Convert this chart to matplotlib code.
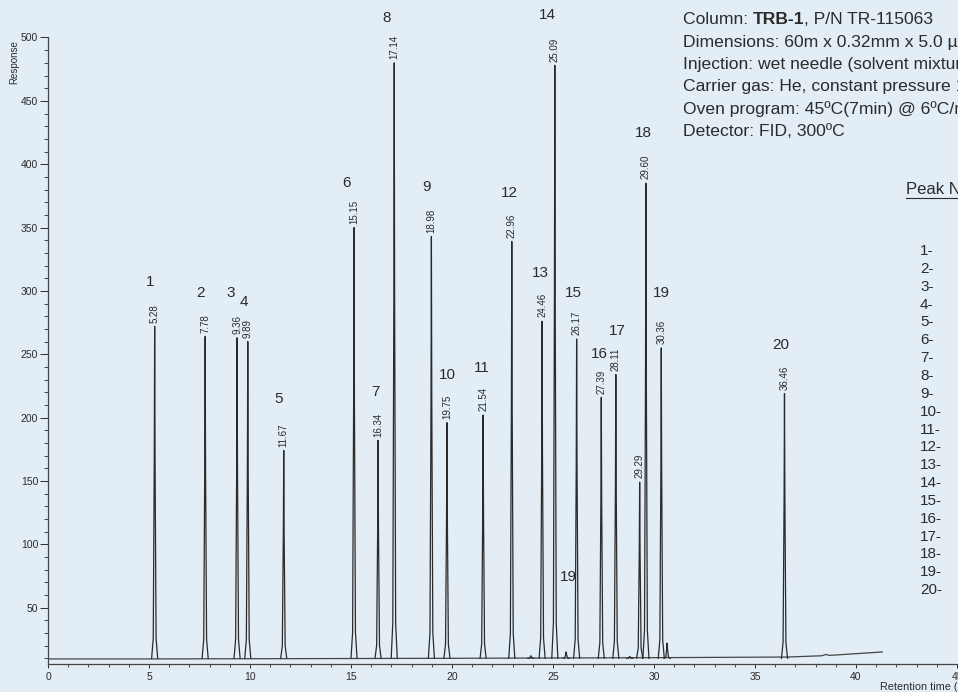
import numpy as np
import matplotlib.pyplot as plt
from matplotlib.ticker import MultipleLocator

plt.rcParams['font.family'] = ['Liberation Sans', 'DejaVu Sans']

# --- peaks (min, response) ---
peak_rt = [5.28, 7.78, 9.36, 9.89, 11.67, 15.15, 16.34, 17.14, 18.98, 19.75,
           21.54, 22.96, 24.46, 25.09, 26.17, 27.39, 28.11, 29.29, 29.60, 30.36, 36.46]
peak_height = [272, 264, 263, 260, 174, 350, 182, 480, 343, 196,
               202, 339, 276, 478, 262, 216, 234, 149, 385, 255, 219]
peak_label = ['1', '2', '3', '4', '5', '6', '7', '8', '9', '10',
              '11', '12', '13', '14', '15', '16', '17', '', '18', '19', '20']

# small unlabelled bumps
minor_rt = [23.9, 25.65, 28.8, 30.65]
minor_height = [12, 15, 11.5, 22]

# baseline drift
base_t = [0, 5, 20, 30, 36.6, 38.3, 38.5, 38.7, 41.3]
base_r = [9.5, 9.5, 10, 10.5, 11, 12, 13, 12.3, 15]

info_lines = ["Dimensions: 60m x 0.32mm x 5.0 \u00b5m",
              "Injection: wet needle (solvent mixture)",
              "Carrier gas: He, constant pressure 16 psi",
              "Oven program: 45\u00baC(7min) @ 6\u00baC/min",
              "Detector: FID, 300\u00baC"]

# --- layout (label nudges) ---
label_dx = [-0.23, -0.21, -0.30, -0.19, -0.23, -0.35, -0.15, -0.36, -0.22, 0.0,
            -0.05, -0.14, -0.10, -0.39, -0.18, -0.11, 0.06, 0, -0.14, 0.0, -0.17]
label_dy = [35, 34, 35, 31, 41, 35, 38, 35, 39, 38,
            37, 38, 38, 40, 36, 34, 34, 0, 40, 43, 38]
shape_dx = np.array([-0.15, -0.07, -0.02, 0, 0.02, 0.07, 0.15])
shape_fr = np.array([0, 0.06, 0.6, 1, 0.6, 0.06, 0])
BASE = 10

BG = '#e3edf5'
INK = '#2b2b2b'

fig = plt.figure(figsize=(9.58, 6.92), dpi=100, facecolor=BG)
ax = fig.add_axes([48 / 958, 1 - 664 / 692, 50 * 20.2 / 958, (664 - 37.5) / 692])
ax.set_facecolor(BG)

ax.plot(base_t, base_r, color='#444444', lw=0.9)
for rt, h in zip(peak_rt + minor_rt, peak_height + minor_height):
    ax.plot(rt + shape_dx, BASE + (h - BASE) * shape_fr, color=INK, lw=0.9)

for rt, h, lab, dx, dy in zip(peak_rt, peak_height, peak_label, label_dx, label_dy):
    ax.text(rt, h + 3, f"{rt:.2f}", rotation=90, ha='center', va='bottom',
            fontsize=7, color=INK, clip_on=False)
    if lab:
        ax.text(rt + dx, h + dy, lab, ha='center', va='center', fontsize=11,
                color=INK, clip_on=False)
ax.text(25.74, 74, '19', ha='center', va='center', fontsize=11, color=INK)

ax.set_xlim(0, 50)
ax.set_ylim(5.5, 500)
ax.set_xticks(np.arange(0, 51, 5))
ax.xaxis.set_minor_locator(MultipleLocator(1))
ax.set_yticks(np.arange(50, 501, 50))
ax.yaxis.set_minor_locator(MultipleLocator(10))
ax.tick_params(axis='both', labelsize=7.5, colors=INK, width=0.7)
ax.tick_params(axis='y', which='major', length=6, pad=1)
ax.tick_params(axis='y', which='minor', length=3, width=0.6, color=INK)
ax.tick_params(axis='x', which='major', length=3, pad=3)
ax.tick_params(axis='x', which='minor', length=2, width=0.6, color=INK)
for s in ['top', 'right']:
    ax.spines[s].set_visible(False)
for s in ['left', 'bottom']:
    ax.spines[s].set_color('#444444')
    ax.spines[s].set_linewidth(0.9)

fig.text(14 / 958, 1 - 62 / 692, 'Response', rotation=90, ha='center', va='center',
         fontsize=7, color=INK)
fig.text(880 / 958, 1 - 687 / 692, 'Retention time (min)', ha='left', va='center',
         fontsize=7.8, color=INK)

# info block, first line with bold column name
fs = 12.6
x0 = 683 / 958
t1 = fig.text(x0, 1 - 20 / 692, 'Column: ', ha='left', va='center', fontsize=fs, color=INK)
fig.canvas.draw()
r = fig.canvas.get_renderer()
bb = t1.get_window_extent(r)
t2 = fig.text(bb.x1 / 958, 1 - 20 / 692, 'TRB-1', ha='left', va='center', fontsize=fs,
              color=INK, fontweight='bold')
bb2 = t2.get_window_extent(r)
fig.text(bb2.x1 / 958, 1 - 20 / 692, ', P/N TR-115063', ha='left', va='center',
         fontsize=fs, color=INK)
for i, line in enumerate(info_lines):
    fig.text(x0, 1 - (42.3 + 22.3 * i) / 692, line, ha='left', va='center',
             fontsize=fs, color=INK)

fig.text(906 / 958, 1 - 190 / 692, 'Peak Name', ha='left', va='center',
         fontsize=12, color=INK)
fig.add_artist(plt.Line2D([906 / 958, 1], [1 - 198 / 692] * 2, color=INK, lw=0.8))
for i in range(20):
    fig.text(920 / 958, 1 - (251 + 17.85 * i) / 692, f"{i + 1}-", ha='left', va='center',
             fontsize=11, color=INK)

fig.savefig('out.png', dpi=100, facecolor=BG)
